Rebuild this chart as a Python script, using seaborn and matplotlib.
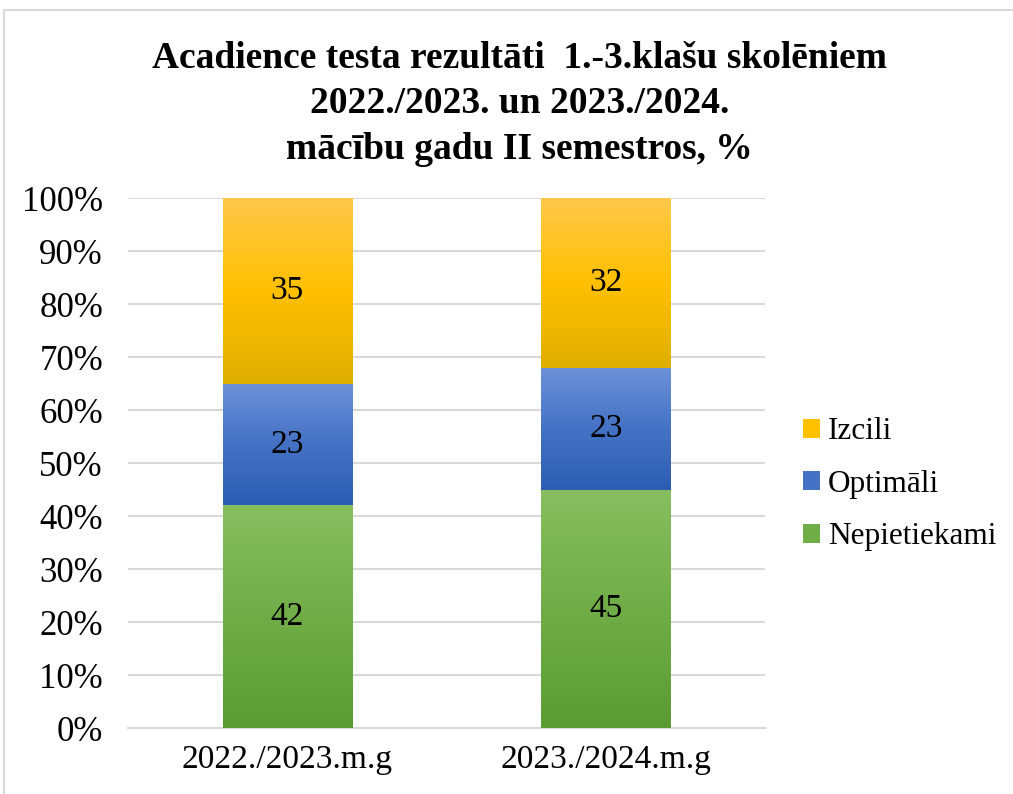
import numpy as np
import pandas as pd
import seaborn as sns
import matplotlib.pyplot as plt
from matplotlib.colors import LinearSegmentedColormap
from matplotlib.patches import Patch, Rectangle

# dati
gadi = ['2022./2023.m.g', '2023./2024.m.g']
nepietiekami = [42, 45]
optimali = [23, 23]
izcili = [35, 32]

serijas = ['Nepietiekami', 'Optimāli', 'Izcili']
vertibas = [nepietiekami, optimali, izcili]

# krāsas: augša, vidus, apakša
krasas = {
    'Izcili': ['#FFC84A', '#FFC000', '#DFAF00'],
    'Optimāli': ['#6D91D8', '#4472C4', '#2D5DB3'],
    'Nepietiekami': ['#88BE60', '#70AD47', '#5C9B34'],
}

sns.set_theme(style='white')
plt.rcParams['font.family'] = ['Liberation Serif', 'DejaVu Serif']
plt.rcParams['text.color'] = 'black'
plt.rcParams['xtick.color'] = 'black'
plt.rcParams['ytick.color'] = 'black'

fig = plt.figure(figsize=(10.13, 7.94), dpi=100)
ax = fig.add_axes([0.1264, 0.0831, 0.629, 0.6675])

# kumulatīvās vērtības, zīmē no lielākās uz mazāko
kum = np.cumsum(np.array(vertibas), axis=0)
for i in reversed(range(len(serijas))):
    df = pd.DataFrame({'gads': gadi, 'v': kum[i]})
    sns.barplot(data=df, x='gads', y='v', color=krasas[serijas[i]][1],
                width=0.405, ax=ax, zorder=2, linewidth=0)

# gradienti katram segmentam
grad = np.linspace(0, 1, 256).reshape(-1, 1)
bar_patches = ax.patches[:len(gadi)]
for i, s in enumerate(serijas):
    cmap = LinearSegmentedColormap.from_list(s, krasas[s][::-1])
    for j, p in enumerate(bar_patches):
        x0, w = p.get_x(), p.get_width()
        lo = kum[i - 1][j] if i > 0 else 0
        hi = kum[i][j]
        ax.imshow(grad, cmap=cmap, origin='lower', aspect='auto',
                  extent=[x0, x0 + w, lo, hi], zorder=3)
        ax.text(j, (lo + hi) / 2, str(vertibas[i][j]), ha='center', va='center',
                fontsize=24, color='black', zorder=4)

ax.set_xlim(-0.5, 1.5)
ax.set_ylim(0, 100)
ax.set_yticks(np.arange(0, 101, 10))
ax.set_yticklabels([f'{t}%' for t in range(0, 101, 10)], fontsize=25)
ax.set_xticks([0, 1])
ax.set_xticklabels(gadi, fontsize=24)
ax.set_xlabel('')
ax.set_ylabel('')
ax.grid(axis='y', color='#D9D9D9', linewidth=1.5, zorder=0)
ax.set_axisbelow(True)
for sp in ['top', 'right', 'left']:
    ax.spines[sp].set_visible(False)
ax.spines['bottom'].set_color('#D9D9D9')
ax.spines['bottom'].set_linewidth(1.5)
ax.tick_params(axis='y', length=0, pad=18)
ax.tick_params(axis='x', length=0, pad=12)
ax.set_xticks([-0.5, 0.5, 1.5], minor=True)
ax.tick_params(axis='x', which='minor', length=9, width=1.5, color='#D9D9D9', direction='out')

# virsraksts
fig.text(0.513, 0.79, 'Acadience testa rezultāti  1.-3.klašu skolēniem\n'
         '2022./2023. un 2023./2024.\nmācību gadu II semestros, %',
         ha='center', va='bottom', fontsize=27, fontweight='bold', linespacing=1.38)

# leģenda
handles = [Patch(facecolor=krasas[s][1], edgecolor='none') for s in ['Izcili', 'Optimāli', 'Nepietiekami']]
fig.legend(handles, ['Izcili', 'Optimāli', 'Nepietiekami'], loc='center left',
           bbox_to_anchor=(0.765, 0.39), frameon=False, fontsize=22.5,
           handlelength=0.55, handleheight=0.55, handletextpad=0.25, labelspacing=0.75)

# rāmis
fig.patches.append(Rectangle((4 / 1013, -0.05), 1.1, 1.05 - 10 / 794, transform=fig.transFigure,
                             fill=False, edgecolor='#D9D9D9', linewidth=1.5))

fig.savefig('out.png', dpi=100)
